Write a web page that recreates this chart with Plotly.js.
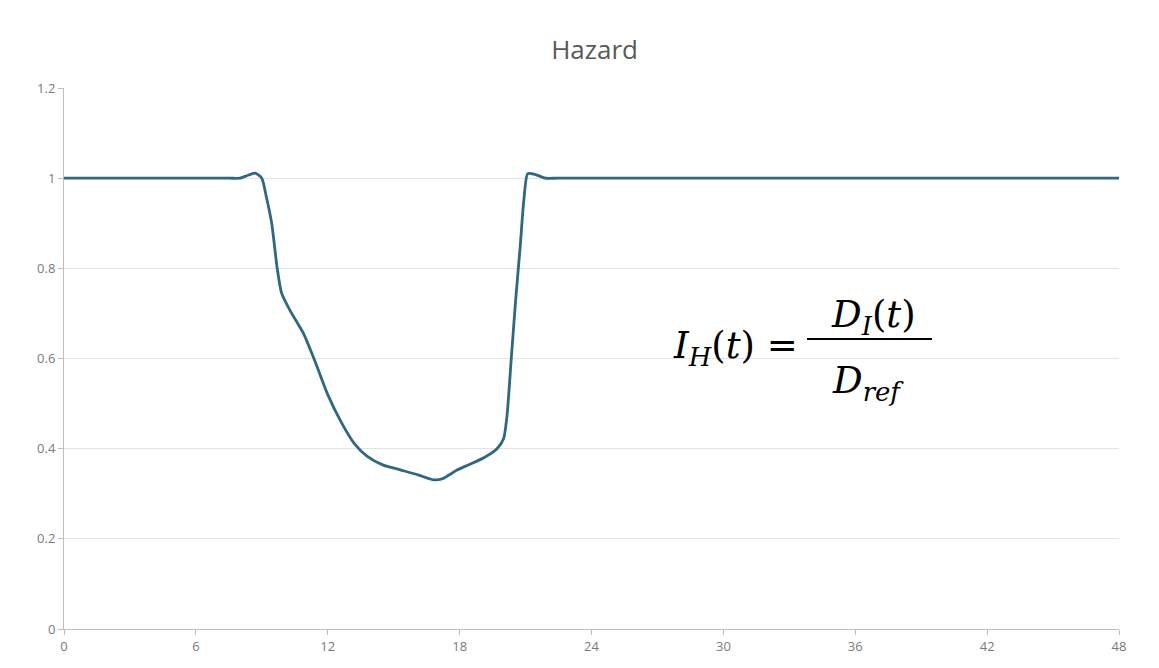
<!DOCTYPE html>
<html>
<head>
<meta charset="utf-8">
<script src="https://cdn.plot.ly/plotly-3.0.1.min.js"></script>
<style>html,body{margin:0;padding:0;background:#fff;}#chart{width:1159px;height:668px;}</style>
</head>
<body>
<div id="chart"></div>
<script>
const hours = [0, 7.5, 8.0, 8.4, 8.7, 9.0, 9.2, 9.45, 9.7, 9.9, 10.3, 10.9, 11.45, 12.0, 12.6, 13.2, 13.8, 14.5, 15.3, 16.1, 16.8, 17.2, 17.9, 18.4, 19.1, 19.7, 20.0, 20.15, 20.35, 20.55, 20.75, 20.92, 21.1, 21.45, 21.9, 22.5, 48];
const hazard = [1, 1, 1, 1.007, 1.011, 1.0, 0.96, 0.9, 0.8, 0.745, 0.705, 0.655, 0.59, 0.52, 0.46, 0.412, 0.383, 0.364, 0.353, 0.342, 0.331, 0.333, 0.353, 0.364, 0.38, 0.4, 0.422, 0.47, 0.6, 0.73, 0.845, 0.95, 1.01, 1.008, 1.0, 1, 1];
const xTicks = [0, 6, 12, 18, 24, 30, 36, 42, 48];
const yTicks = [0, 0.2, 0.4, 0.6, 0.8, 1, 1.2];
const yTickLabels = ['0', '0.2', '0.4', '0.6', '0.8', '1', '1.2'];

const trace = {
  x: hours, y: hazard, type: 'scatter', mode: 'lines',
  line: {color: '#2f6880', width: 2.8, shape: 'spline', smoothing: 0.6},
  hoverinfo: 'skip'
};

const mathFont = {family: 'DejaVu Serif, Liberation Serif, serif', size: 37, color: '#000'};

const layout = {
  width: 1159, height: 668,
  margin: {l: 64, r: 40, t: 88, b: 39},
  paper_bgcolor: '#fff', plot_bgcolor: '#fff',
  showlegend: false,
  title: {text: 'Hazard', x: 0.513, xanchor: 'center', y: 0.925, yanchor: 'middle',
    font: {family: 'Open Sans, Liberation Sans, sans-serif', size: 26, color: '#595959'}},
  xaxis: {
    range: [0, 48], tickvals: xTicks, ticktext: xTicks.map(String),
    showgrid: false, zeroline: false,
    showline: true, linecolor: '#bfbfbf', linewidth: 1,
    ticks: 'outside', ticklen: 5, tickcolor: '#bfbfbf',
    tickfont: {family: 'Open Sans, Liberation Sans, sans-serif', size: 13, color: '#7a7a7a'}
  },
  yaxis: {
    range: [0, 1.2], tickvals: yTicks, ticktext: yTickLabels,
    showgrid: true, gridcolor: '#e3e3e3', gridwidth: 1, zeroline: false,
    showline: true, linecolor: '#bfbfbf', linewidth: 1,
    ticks: 'outside', ticklen: 5, tickcolor: '#bfbfbf',
    tickfont: {family: 'Open Sans, Liberation Sans, sans-serif', size: 13, color: '#7a7a7a'}
  },
  annotations: [
    {xref: 'paper', yref: 'paper', x: 0.6976, y: 0.52, xanchor: 'right', yanchor: 'middle', showarrow: false,
     text: '<i>I</i><sub><i>H</i></sub>(<i>t</i>) =', font: mathFont},
    {xref: 'paper', yref: 'paper', x: 0.767, y: 0.577, xanchor: 'center', yanchor: 'middle', showarrow: false,
     text: '<i>D</i><sub><i>I</i></sub>(<i>t</i>)', font: mathFont},
    {xref: 'paper', yref: 'paper', x: 0.762, y: 0.455, xanchor: 'center', yanchor: 'middle', showarrow: false,
     text: '<i>D</i><sub><i>ref</i></sub>', font: mathFont}
  ],
  shapes: [
    {type: 'line', xref: 'paper', yref: 'paper', x0: 0.7043, x1: 0.8227, y0: 0.536, y1: 0.536,
     line: {color: '#000', width: 2}}
  ]
};

Plotly.newPlot('chart', [trace], layout, {displayModeBar: false, staticPlot: true});
</script>
</body>
</html>
